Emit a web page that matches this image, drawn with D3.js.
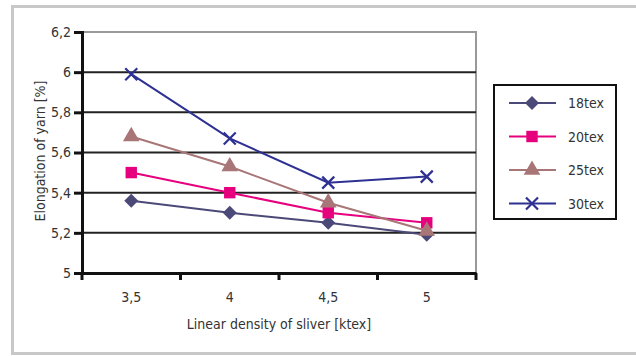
<!DOCTYPE html>
<html>
<head>
<meta charset="utf-8">
<script src="https://cdn.jsdelivr.net/npm/d3@7"></script>
<style>
  body { margin: 0; background: #fff; }
  text { font-family: "Liberation Sans Narrow", "DejaVu Sans Condensed", "DejaVu Sans", sans-serif; font-stretch: condensed; fill: #333; }
</style>
</head>
<body>
<svg width="636" height="356"></svg>
<script>

var categories = ["3,5", "4", "4,5", "5"];
var seriesNames = ["18tex", "20tex", "25tex", "30tex"];
var tex18 = [5.36, 5.30, 5.25, 5.19];
var tex20 = [5.50, 5.40, 5.30, 5.25];
var tex25 = [5.68, 5.53, 5.35, 5.21];
var tex30 = [5.99, 5.67, 5.45, 5.48];
var yTicks = [5, 5.2, 5.4, 5.6, 5.8, 6, 6.2];
var colors = ["#4b4978", "#e6007e", "#a87676", "#2e3192"];
var shapes = ["diamond", "square", "triangle", "cross"];

var series = [tex18, tex20, tex25, tex30].map(function(v, i) {
  return { name: seriesNames[i], values: v, color: colors[i], shape: shapes[i] };
});

var svg = d3.select("svg");
var formatComma = function(d) { return String(d).replace(".", ","); };

// outer frame
svg.append("rect")
    .attr("x", 12.5).attr("y", 6.5)
    .attr("width", 640).attr("height", 347)
    .attr("fill", "none")
    .attr("stroke", "#c8c8c8")
    .attr("stroke-width", 3);

var pLeft = 82, pTop = 32, pRight = 476, pBottom = 273;

var x = d3.scaleBand().domain(categories).range([pLeft, pRight]);
var y = d3.scaleLinear().domain([5, 6.2]).range([pBottom, pTop]);

// plot frame (top/right grey)
svg.append("path")
    .attr("d", "M" + pLeft + "," + pTop + "H" + pRight + "V" + pBottom)
    .attr("fill", "none")
    .attr("stroke", "#999")
    .attr("stroke-width", 2);

// gridlines
svg.append("g")
  .selectAll("line")
  .data(yTicks.slice(1, -1))
  .enter().append("line")
    .attr("x1", pLeft).attr("x2", pRight)
    .attr("y1", function(d) { return y(d); })
    .attr("y2", function(d) { return y(d); })
    .attr("stroke", "#222")
    .attr("stroke-width", 2);

var yAxis = d3.axisLeft(y)
    .tickValues(yTicks)
    .tickSize(8)
    .tickPadding(3)
    .tickFormat(formatComma);

var gy = svg.append("g").attr("transform", "translate(" + pLeft + ",0)").call(yAxis);
gy.select(".domain").attr("stroke", "#111").attr("stroke-width", 3);
gy.selectAll(".tick line").attr("stroke", "#111").attr("stroke-width", 3);
gy.selectAll(".tick text").attr("font-size", 14).style("fill", "#333");

var xAxis = d3.axisBottom(x).tickSize(0).tickPadding(19);
var gx = svg.append("g").attr("transform", "translate(0," + pBottom + ")").call(xAxis);
gx.select(".domain").attr("stroke", "#111").attr("stroke-width", 3);
gx.selectAll(".tick text").attr("font-size", 14).style("fill", "#333");

// x tick marks between categories
var xt = x.domain().map(function(d) { return x(d); }).concat([pRight]);
svg.append("g")
  .selectAll("line")
  .data(xt)
  .enter().append("line")
    .attr("x1", function(d) { return d; }).attr("x2", function(d) { return d; })
    .attr("y1", pBottom).attr("y2", pBottom + 7)
    .attr("stroke", "#111")
    .attr("stroke-width", 3);

svg.append("text")
    .attr("x", (pLeft + pRight) / 2)
    .attr("y", 329)
    .attr("text-anchor", "middle")
    .attr("font-size", 14)
    .text("Linear density of sliver [ktex]");

svg.append("text")
    .attr("transform", "translate(45," + 151 + ") rotate(-90)")
    .attr("text-anchor", "middle")
    .attr("font-size", 14)
    .text("Elongation of yarn [%]");

function drawMarker(g, shape, color) {
  if (shape === "cross") {
    g.append("path")
        .attr("d", "M-6,-6L6,6M-6,6L6,-6")
        .attr("stroke", color)
        .attr("stroke-width", 2.2)
        .attr("fill", "none");
  } else if (shape === "diamond") {
    g.append("path")
        .attr("d", "M0,-7L7,0L0,7L-7,0Z")
        .attr("fill", color);
  } else {
    var sym = shape === "square" ? d3.symbolSquare : d3.symbolTriangle;
    var size = shape === "square" ? 130 : 120;
    g.append("path")
        .attr("d", d3.symbol().type(sym).size(size)())
        .attr("fill", color);
  }
}

var line = d3.line()
    .x(function(d, i) { return x(categories[i]) + x.bandwidth() / 2; })
    .y(function(d) { return y(d); });

series.forEach(function(s) {
  svg.append("path")
      .datum(s.values)
      .attr("d", line)
      .attr("fill", "none")
      .attr("stroke", s.color)
      .attr("stroke-width", 2);
  s.values.forEach(function(v, i) {
    var g = svg.append("g")
        .attr("transform", "translate(" + (x(categories[i]) + x.bandwidth() / 2) + "," + y(v) + ")");
    drawMarker(g, s.shape, s.color);
  });
});

// legend
var legend = svg.append("g");
legend.append("rect")
    .attr("x", 494).attr("y", 85)
    .attr("width", 122).attr("height", 134)
    .attr("fill", "#fff")
    .attr("stroke", "#111")
    .attr("stroke-width", 2);

series.forEach(function(s, i) {
  var ly = 103 + i * 33.5;
  legend.append("line")
      .attr("x1", 509).attr("x2", 556)
      .attr("y1", ly).attr("y2", ly)
      .attr("stroke", s.color)
      .attr("stroke-width", 2);
  var g = legend.append("g").attr("transform", "translate(532," + ly + ")");
  drawMarker(g, s.shape, s.color);
  legend.append("text")
      .attr("x", 568)
      .attr("y", ly + 5)
      .attr("font-size", 14)
      .text(s.name);
});

</script>
</body>
</html>
